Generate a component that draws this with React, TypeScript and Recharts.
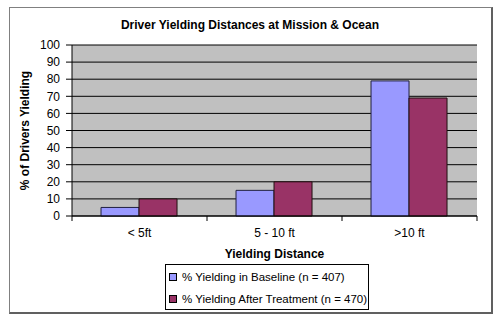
import React from "react";
import { BarChart, Bar, XAxis, YAxis, CartesianGrid, Legend } from "recharts";

const categories = ["< 5ft", "5 - 10 ft", ">10 ft"];
const baseline = [5, 15, 79];
const treatment = [10, 20, 69];
const yTicks = [0, 10, 20, 30, 40, 50, 60, 70, 80, 90, 100];
const seriesNames = ["% Yielding in Baseline (n = 407)", "% Yielding After Treatment (n = 470)"];
const title = "Driver Yielding Distances at Mission & Ocean";
const xTitle = "Yielding Distance";
const yTitle = "% of Drivers Yielding";

const data = categories.map((c, i) => ({ cat: c, base: baseline[i], treat: treatment[i] }));

const FONT = "'Liberation Sans', Arial, sans-serif";
const W = 500;
const H = 322;
const M = { top: 45, right: 23, left: 0, bottom: 60 };
const Y_W = 72;
const X_H = 46;
const PLOT_W = W - M.left - M.right - Y_W;
const BAND = PLOT_W / categories.length;

const XTick = (props: any) => {
  const { x, y, payload, index } = props;
  const half = BAND / 2;
  const top = y - 8;
  return (
    <g>
      <line x1={x - half} x2={x - half} y1={top} y2={top + 5} stroke="#000" />
      {index === categories.length - 1 && (
        <line x1={x + half} x2={x + half} y1={top} y2={top + 5} stroke="#000" />
      )}
      <text x={x} y={top + 21} textAnchor="middle" fontFamily={FONT} fontSize={12} fill="#000">
        {payload.value}
      </text>
    </g>
  );
};

const YTitle = (props: any) => {
  const vb = props.viewBox;
  const cx = vb.x + 25;
  const cy = vb.y + vb.height / 2;
  return (
    <text
      x={cx}
      y={cy}
      transform={`rotate(-90, ${cx}, ${cy})`}
      textAnchor="middle"
      dominantBaseline="central"
      fontFamily={FONT}
      fontSize={12}
      fontWeight="bold"
      fill="#000"
    >
      {yTitle}
    </text>
  );
};

const LegendBox = () => {
  const colors = ["#9999FF", "#993366"];
  return (
    <div
      style={{
        border: "1px solid #000",
        background: "#fff",
        width: 204,
        height: 46,
        boxSizing: "border-box",
        fontFamily: FONT,
        fontSize: 11.5,
        color: "#000",
        padding: "1px 0 0 3px",
      }}
    >
      {seriesNames.map((n, i) => (
        <div key={n} style={{ display: "flex", alignItems: "center", height: 22, whiteSpace: "nowrap" }}>
          <span
            style={{
              display: "inline-block",
              flexShrink: 0,
              width: 6,
              height: 6,
              background: colors[i],
              border: "1px solid #000",
              marginRight: 5,
            }}
          />
          {n}
        </div>
      ))}
    </div>
  );
};

export default function App() {
  return (
    <div style={{ position: "absolute", left: 0, top: 0, width: W, height: H, background: "#fff" }}>
      <div
        style={{
          position: "absolute",
          left: 9,
          top: 7,
          width: 481,
          height: 304,
          borderTop: "1px solid #808080",
          borderLeft: "1px solid #808080",
          borderRight: "2px solid #606060",
          borderBottom: "2px solid #606060",
        }}
      />
      <div
        style={{
          position: "absolute",
          left: 0,
          top: 18,
          width: W,
          textAlign: "center",
          fontFamily: FONT,
          fontSize: 12,
          fontWeight: "bold",
          color: "#000",
        }}
      >
        {title}
      </div>
      <div style={{ position: "absolute", left: 0, top: 0 }}>
        <BarChart
          width={W}
          height={H}
          data={data}
          margin={M}
          barCategoryGap="21.5%"
          barGap={0}
        >
          <CartesianGrid vertical={false} stroke="#000" fill="#C0C0C0" />
          <XAxis
            dataKey="cat"
            height={X_H}
            axisLine={{ stroke: "#000" }}
            tickLine={false}
            tick={<XTick />}
            interval={0}
            label={{
              value: xTitle,
              position: "insideBottom",
              offset: 4,
              style: { fontFamily: FONT, fontSize: 12, fontWeight: "bold", fill: "#000" },
            }}
          />
          <YAxis
            width={Y_W}
            domain={[0, 100]}
            ticks={yTicks}
            interval={0}
            tickSize={6}
            tickMargin={6}
            axisLine={{ stroke: "#000" }}
            tickLine={{ stroke: "#000" }}
            tick={{ fontFamily: FONT, fontSize: 12, fill: "#000" }}
            label={<YTitle />}
          />
          <Legend
            layout="vertical"
            align="center"
            verticalAlign="middle"
            content={<LegendBox />}
            wrapperStyle={{ position: "absolute", left: 165, top: 264, width: 204, height: 46 }}
          />
          <Bar dataKey="base" name={seriesNames[0]} fill="#9999FF" stroke="#202040" strokeWidth={1} isAnimationActive={false} />
          <Bar dataKey="treat" name={seriesNames[1]} fill="#993366" stroke="#201010" strokeWidth={1} isAnimationActive={false} />
        </BarChart>
      </div>
    </div>
  );
}
